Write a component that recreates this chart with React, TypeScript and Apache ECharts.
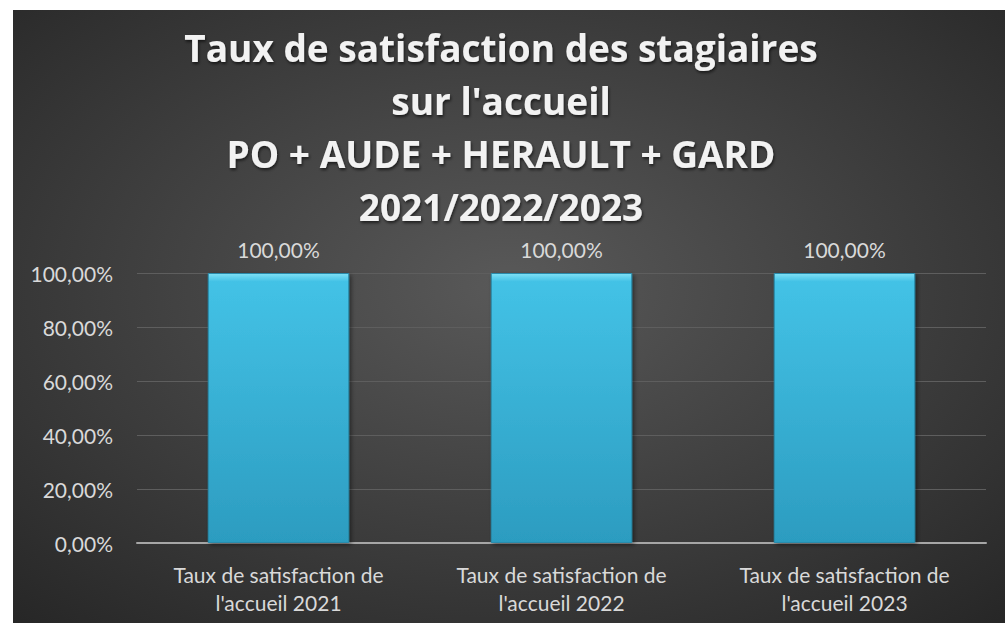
import React, { useEffect, useRef } from "react";
import * as echarts from "echarts";

const titleLines = [
  "Taux de satisfaction des stagiaires",
  "sur l'accueil",
  "PO + AUDE + HERAULT + GARD",
  "2021/2022/2023",
];
const categories = [
  "Taux de satisfaction de\nl'accueil 2021",
  "Taux de satisfaction de\nl'accueil 2022",
  "Taux de satisfaction de\nl'accueil 2023",
];
const values = [100, 100, 100];
const yTicks = { min: 0, max: 100, interval: 20 };

const fmt = (v: number) => v.toFixed(2).replace(".", ",") + "%";

export default function App() {
  const ref = useRef<HTMLDivElement>(null);
  useEffect(() => {
    if (!ref.current) return;
    const chart = echarts.init(ref.current, null, { renderer: "svg" });
    const font = "Lato, 'Open Sans', sans-serif";
    chart.setOption({
      animation: false,
      backgroundColor: {
        type: "radial",
        x: 0.5,
        y: 0.45,
        r: 0.75,
        colorStops: [
          { offset: 0, color: "#595959" },
          { offset: 1, color: "#262626" },
        ],
      },
      title: {
        text: titleLines.join("\n"),
        left: 483,
        top: 6,
        textAlign: "center",
        textStyle: {
          color: "#f2f2f2",
          fontFamily: "'Open Sans', sans-serif",
          fontWeight: "bold",
          fontSize: 37,
          lineHeight: 53,
          textShadowColor: "rgba(0,0,0,0.6)",
          textShadowBlur: 3,
          textShadowOffsetX: 1,
          textShadowOffsetY: 2,
        },
      },
      grid: { left: 124, right: 19, top: 263, bottom: 80, containLabel: false },
      xAxis: {
        type: "category",
        data: categories,
        axisLine: { show: true, lineStyle: { color: "#a6a6a6", width: 2 } },
        axisTick: { show: false },
        axisLabel: {
          color: "#d9d9d9",
          fontFamily: font,
          fontSize: 21,
          lineHeight: 28,
          margin: 17,
          interval: 0,
        },
      },
      yAxis: {
        type: "value",
        min: yTicks.min,
        max: yTicks.max,
        interval: yTicks.interval,
        axisLine: { show: false },
        axisTick: { show: false },
        splitLine: { lineStyle: { color: "#5e5e5e", width: 1 } },
        axisLabel: {
          color: "#d9d9d9",
          fontFamily: font,
          fontSize: 21,
          margin: 24,
          formatter: (v: number) => fmt(v),
        },
      },
      series: [
        {
          type: "bar",
          data: values,
          barWidth: "50%",
          itemStyle: {
            color: {
              type: "linear",
              x: 0,
              y: 0,
              x2: 0,
              y2: 1,
              colorStops: [
                { offset: 0, color: "#7fe0f5" },
                { offset: 0.03, color: "#43c2e6" },
                { offset: 1, color: "#2c9cc0" },
              ],
            },
            borderColor: "#2a8bab",
            borderWidth: 1,
            shadowColor: "rgba(0,0,0,0.45)",
            shadowBlur: 4,
            shadowOffsetX: 2,
            shadowOffsetY: 2,
          },
          label: {
            show: true,
            position: "top",
            distance: 13,
            color: "#d9d9d9",
            fontFamily: font,
            fontSize: 21,
            formatter: (p: any) => fmt(p.value),
          },
        },
      ],
    });
    return () => chart.dispose();
  }, []);
  return (
    <div
      style={{
        position: "fixed",
        left: 0,
        top: 0,
        width: 1005,
        height: 625,
        background: "#ffffff",
      }}
    >
      <div
        ref={ref}
        style={{ position: "absolute", left: 13, top: 10, width: 992, height: 613 }}
      />
    </div>
  );
}
